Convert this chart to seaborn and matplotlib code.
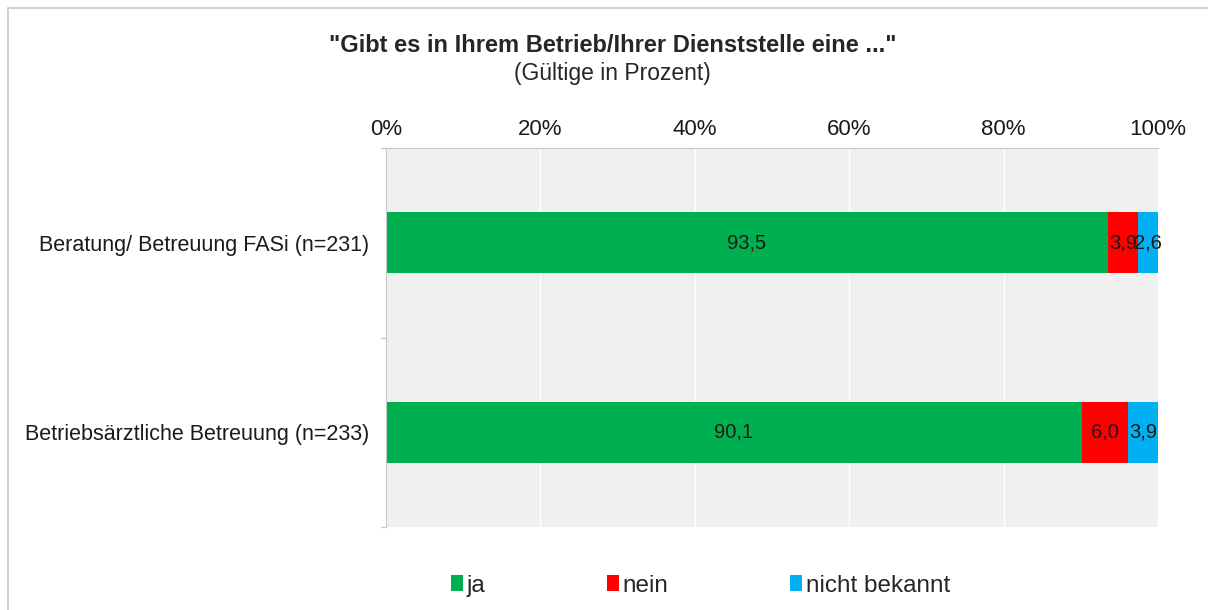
import numpy as np
import pandas as pd
import seaborn as sns
import matplotlib.pyplot as plt
from matplotlib.patches import Rectangle, Patch

# Daten
kategorien = ["Beratung/ Betreuung FASi (n=231)", "Betriebsärztliche Betreuung (n=233)"]
ja = [93.5, 90.1]
nein = [3.9, 6.0]
nicht_bekannt = [2.6, 3.9]
serien = ["ja", "nein", "nicht bekannt"]
farben = ["#00b050", "#ff0000", "#00b0f0"]

df = pd.DataFrame({"kategorie": kategorien, "ja": ja, "nein": nein, "nicht bekannt": nicht_bekannt})
cum = df[serien].cumsum(axis=1)

sns.set_style("white")
plt.rcParams["font.family"] = ["Liberation Sans", "DejaVu Sans"]

fig = plt.figure(figsize=(12.08, 6.10), dpi=100)
ax = fig.add_axes([0.3195, 0.136, 0.6391, 0.6214])
ax.set_facecolor("#f0f0f0")

# gestapelte Balken: von hinten nach vorne zeichnen
for s, c in zip(reversed(serien), reversed(farben)):
    sns.barplot(x=cum[s], y=df["kategorie"], color=c, orient="h", width=0.32,
                ax=ax, saturation=1, linewidth=0)

# Werte beschriften
for i in range(len(kategorien)):
    links = 0
    for s in serien:
        v = df.loc[i, s]
        ax.text(links + v / 2, i, f"{v:.1f}".replace(".", ","), ha="center", va="center",
                fontsize=14.5, color="#1a1a1a")
        links += v

ax.set_xlim(0, 100)
ax.set_ylim(1.5, -0.5)
ax.set_xticks(np.arange(0, 101, 20))
ax.set_xticklabels([f"{t}%" for t in range(0, 101, 20)], fontsize=16)
ax.xaxis.tick_top()
ax.tick_params(axis="x", length=0, pad=6, colors="#1a1a1a")
ax.tick_params(axis="y", length=0, labelsize=15.5, pad=12, colors="#1a1a1a")
ax.set_xlabel("")
ax.set_ylabel("")
ax.grid(axis="x", color="white", linewidth=1)
ax.set_axisbelow(True)
for sp in ["right", "bottom"]:
    ax.spines[sp].set_visible(False)
ax.spines["top"].set_color("#c8c8c8")
ax.spines["left"].set_color("#c8c8c8")
# kleine Striche an den Kategoriegrenzen
for yb in [-0.5, 0.5, 1.5]:
    ax.plot([-0.6, 0], [yb, yb], color="#c8c8c8", lw=1, clip_on=False)

# Titel
fig.text(0.507, 0.925, "\"Gibt es in Ihrem Betrieb/Ihrer Dienststelle eine ...\"",
         ha="center", va="center", fontsize=17, fontweight="bold")
fig.text(0.507, 0.88, "(Gültige in Prozent)", ha="center", va="center", fontsize=16.5)

# Legende
handles = [Patch(facecolor=c, edgecolor="none") for c in farben]
fig.legend(handles, serien, loc="center", bbox_to_anchor=(0.58, 0.04), ncol=3,
           frameon=False, fontsize=17.5, handlelength=0.5, handleheight=0.65,
           handletextpad=0.15, columnspacing=5.0)

# Rahmen des Diagramms
fig.patches.append(Rectangle((0.0066, -0.1), 1.5, 1.087, transform=fig.transFigure,
                             fill=False, edgecolor="#c8c8c8", lw=1.2))

fig.savefig("out.png", dpi=100)
